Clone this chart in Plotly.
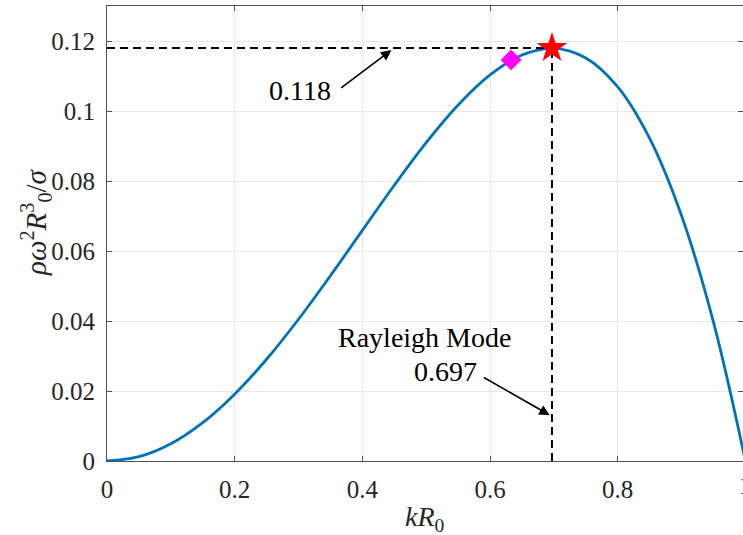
import plotly.graph_objects as go

# Data
kR0 = [0.0, 0.05, 0.10, 0.15, 0.20, 0.25, 0.30, 0.35, 0.40, 0.45, 0.50,
       0.55, 0.60, 0.65, 0.70, 0.75, 0.80, 0.85, 0.90, 0.95, 1.0]
growth = [0.0, 0.00125, 0.00494, 0.01097, 0.01910, 0.02907, 0.04050, 0.05294,
          0.06589, 0.07877, 0.09094, 0.10170, 0.11031, 0.11599, 0.11788,
          0.11513, 0.10687, 0.09216, 0.07008, 0.03968, 0.0]

rayleigh_k = [0.697]
rayleigh_val = [0.118]
diamond_k = [0.633]
diamond_val = [0.1146]

x_ticks = [0, 0.2, 0.4, 0.6, 0.8]
x_ticklabels = ["0", "0.2", "0.4", "0.6", "0.8"]
y_ticks = [0, 0.02, 0.04, 0.06, 0.08, 0.10, 0.12]
y_ticklabels = ["0", "0.02", "0.04", "0.06", "0.08", "0.1", "0.12"]

FONT = "Liberation Serif"
AX = "#505050"
TXT = "#262626"

W, H = 743, 535
L, R, T, B = 107, 0, 6, 74
pw, ph = W - L - R, H - T - B
X_SPAN = 638.4  # pixels per unit of kR0


def px_x(p):
    return (p - L) / pw


def px_y(p):
    return (H - B - p) / ph


fig = go.Figure()

fig.add_trace(go.Scatter(
    x=kR0, y=growth, mode="lines", line=dict(color="#0072BD", width=2.8, shape="spline"),
    showlegend=False, hoverinfo="skip"))

# dashed guides
fig.add_trace(go.Scatter(
    x=[0, rayleigh_k[0]], y=[rayleigh_val[0], rayleigh_val[0]], mode="lines",
    line=dict(color="black", width=2, dash="8px,5px"), showlegend=False))
fig.add_trace(go.Scatter(
    x=[rayleigh_k[0], rayleigh_k[0]], y=[0, rayleigh_val[0]], mode="lines",
    line=dict(color="black", width=2, dash="8px,5px"), showlegend=False))

fig.add_trace(go.Scatter(
    x=diamond_k, y=diamond_val, mode="markers",
    marker=dict(symbol="diamond", size=16, color="#FF00FF", line=dict(width=0)),
    showlegend=False))
fig.add_trace(go.Scatter(
    x=rayleigh_k, y=rayleigh_val, mode="markers",
    marker=dict(symbol="star", size=23, color="#FF0000", line=dict(width=0)),
    showlegend=False))

annots = []
# arrows
annots.append(dict(x=0.4455, y=0.1174, ax=0.3645, ay=0.1063, xref="x", yref="y",
                   axref="x", ayref="y", text="", showarrow=True, arrowhead=2,
                   arrowsize=1.3, arrowwidth=1.6, arrowcolor="black"))
annots.append(dict(x=0.6935, y=0.0131, ax=0.588, ay=0.0241, xref="x", yref="y",
                   axref="x", ayref="y", text="", showarrow=True, arrowhead=2,
                   arrowsize=1.3, arrowwidth=1.6, arrowcolor="black"))
# texts
annots.append(dict(x=0.302, y=0.1059, xref="x", yref="y", text="0.118", showarrow=False,
                   xanchor="center", yanchor="middle",
                   font=dict(family=FONT, size=28, color="black")))
annots.append(dict(x=0.498, y=0.0353, xref="x", yref="y", text="Rayleigh Mode", showarrow=False,
                   xanchor="center", yanchor="middle",
                   font=dict(family=FONT, size=28, color="black")))
annots.append(dict(x=0.530, y=0.0256, xref="x", yref="y", text="0.697", showarrow=False,
                   xanchor="center", yanchor="middle",
                   font=dict(family=FONT, size=28, color="black")))
# cut-off tick label "1" at the right edge
annots.append(dict(x=px_x(L + X_SPAN * 1.0), y=0, xref="paper", yref="paper", text="1",
                   showarrow=False, xanchor="center", yanchor="top", yshift=-9,
                   font=dict(family=FONT, size=25, color=TXT)))
# axis titles
annots.append(dict(x=px_x(425), y=px_y(518), xref="paper", yref="paper", showarrow=False,
                   xanchor="center", yanchor="middle",
                   text="<i>kR</i><sub>0</sub>",
                   font=dict(family=FONT, size=28, color=TXT)))
annots.append(dict(x=px_x(36), y=px_y(222), xref="paper", yref="paper", showarrow=False,
                   xanchor="center", yanchor="middle",
                   text="<i>ρω</i><sup>2</sup><i>R</i><sup>3</sup><sub>0</sub>/<i>σ</i>",
                   textangle=-90, font=dict(family=FONT, size=29, color=TXT)))

fig.update_layout(
    width=W, height=H,
    margin=dict(l=L, r=R, t=T, b=B, autoexpand=False),
    paper_bgcolor="white", plot_bgcolor="white",
    font=dict(family=FONT, color=TXT),
    annotations=annots,
    xaxis=dict(
        range=[0, pw / X_SPAN], tickvals=x_ticks, ticktext=x_ticklabels,
        tickfont=dict(family=FONT, size=25, color=TXT), automargin=False,
        ticks="inside", ticklen=5, tickcolor=AX, showline=True, linecolor=AX, linewidth=1,
        mirror="ticks", showgrid=True, gridcolor="#e8e8e8", gridwidth=1, zeroline=False,
        ticklabelstandoff=6,
    ),
    yaxis=dict(
        range=[0, 0.13], tickvals=y_ticks, ticktext=y_ticklabels,
        tickfont=dict(family=FONT, size=25, color=TXT), automargin=False,
        ticks="inside", ticklen=5, tickcolor=AX, showline=True, linecolor=AX, linewidth=1,
        mirror="ticks", showgrid=True, gridcolor="#e8e8e8", gridwidth=1, zeroline=False,
        ticklabelstandoff=6,
    ),
)

fig.write_html(
    "out.html",
    config={"displayModeBar": False},
    post_script="document.body.style.margin='0';document.body.style.overflow='hidden';",
)
